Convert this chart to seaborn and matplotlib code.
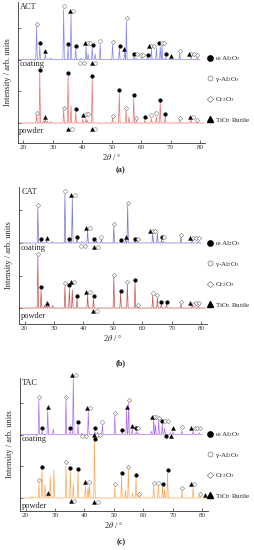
# XRD patterns of ACT / CAT / TAC coatings and powders (three stacked panels)

import pandas as pd
import matplotlib
matplotlib.use('Agg')
import matplotlib.pyplot as plt
import seaborn as sns
from matplotlib.lines import Line2D

sns.set_theme(style='ticks')
plt.rcParams['font.family'] = ['Liberation Serif', 'DejaVu Serif']
plt.rcParams['mathtext.fontset'] = 'stix'

# 1) data: peak position (2theta) and height (arb. units)
# coating curves sit on a baseline of 2, powder curves on 0
A_COAT_POS = [24.5, 25.6, 27.5, 29.3, 33.7, 35.2, 36.2, 37.8, 39.5, 41.3, 42.0, 43.4, 44.4, 46.1, 50.3,
              52.6, 54.4, 55.0, 57.5, 58.3, 60.3, 62.2, 63.5, 65.2, 66.5, 67.1, 68.3, 70.0, 73.1, 76.9, 79.0]
A_COAT_HT = [1.05, 0.42, 0.18, 0.05, 1.58, 0.40, 1.45, 0.33, 0.04, 0.42, 0.18, 0.38, 0.18, 0.48, 0.46,
             0.36, 0.26, 1.20, 0.10, 0.06, 0.05, 0.07, 0.33, 0.36, 0.40, 0.45, 0.08, 0.05, 0.20, 0.13, 0.07]
A_POW_POS = [24.5, 25.6, 26.9, 27.5, 28.2, 29.5, 33.7, 35.2, 36.2, 37.8, 40.2, 41.3, 41.8, 43.4, 50.3,
             52.6, 54.9, 55.9, 57.5, 58.4, 61.3, 63.5, 65.2, 66.5, 68.2, 73.1, 76.9, 79.0]
A_POW_HT = [0.25, 1.58, 0.07, 0.12, 0.06, 0.05, 0.40, 1.48, 0.55, 0.34, 0.12, 0.15, 0.08, 1.40, 0.15,
            0.93, 0.40, 0.20, 0.78, 0.07, 0.10, 0.14, 0.20, 0.64, 0.21, 0.07, 0.12, 0.04]

B_COAT_POS = [24.5, 25.6, 27.5, 29.4, 33.7, 35.2, 36.2, 37.8, 39.5, 41.4, 43.5, 44.5, 46.1, 50.3, 52.7,
              54.3, 55.0, 57.5, 58.5, 63.5, 65.1, 66.5, 67.2, 73.1, 76.9, 79.0]
B_COAT_HT = [1.08, 0.07, 0.07, 0.04, 1.50, 0.07, 1.38, 0.13, 0.04, 0.38, 0.07, 0.06, 0.13, 0.50, 0.05,
             0.10, 1.15, 0.07, 0.05, 0.30, 0.30, 0.10, 0.05, 0.18, 0.10, 0.05]
B_POW_POS = [24.5, 25.6, 26.8, 27.5, 28.2, 29.5, 33.7, 35.2, 36.2, 37.8, 41.4, 43.4, 50.3, 52.6, 54.9,
             57.5, 58.4, 63.5, 65.1, 66.4, 68.2, 73.1, 76.9, 79.0]
B_POW_HT = [1.58, 0.55, 0.08, 0.10, 0.12, 0.08, 0.68, 0.60, 0.55, 0.28, 0.40, 0.28, 0.95, 0.45, 0.72,
            0.78, 0.05, 0.38, 0.33, 0.10, 0.12, 0.10, 0.08, 0.06]

C_COAT_POS = [24.5, 25.6, 27.5, 29.4, 33.7, 35.2, 36.2, 37.8, 39.2, 41.3, 43.5, 44.4, 46.1, 50.3, 52.7,
              54.3, 55.0, 56.2, 57.6, 58.3, 62.7, 63.5, 64.1, 65.2, 66.4, 67.2, 69.1, 70.0, 73.1, 76.9, 79.0]
C_COAT_HT = [1.08, 0.10, 0.76, 0.18, 1.08, 0.10, 1.76, 0.28, 0.04, 0.72, 0.10, 0.08, 0.30, 0.58, 0.05,
             0.76, 1.00, 0.18, 0.10, 0.05, 0.10, 0.50, 0.30, 0.45, 0.33, 0.20, 0.06, 0.08, 0.12, 0.10, 0.06]
C_POW_POS = [22.2, 24.5, 25.6, 26.6, 27.5, 28.4, 29.6, 33.7, 35.2, 36.2, 37.8, 40.3, 41.2, 41.7, 43.4,
             50.3, 52.6, 53.9, 54.9, 56.3, 57.5, 58.4, 63.5, 65.1, 66.5, 67.2, 68.2, 73.1, 76.9, 79.0, 81.0]
C_POW_HT = [0.05, 0.47, 0.88, 0.42, 0.10, 0.70, 0.88, 1.00, 0.86, 0.45, 0.82, 0.38, 0.33, 0.40, 1.78,
            0.36, 0.70, 0.25, 0.88, 0.15, 0.63, 0.05, 0.38, 0.38, 0.36, 0.28, 0.78, 0.23, 0.33, 0.05, 0.04]

# phase markers (2theta, intensity)
A_ALPHA = [(25.6, 2.52), (35.2, 2.50), (37.8, 2.44), (43.5, 2.47), (52.7, 2.44), (57.6, 2.19), (62.2, 2.16),
           (66.2, 2.53), (68.3, 2.19), (25.6, 1.68), (35.2, 1.58), (43.4, 1.50), (52.6, 1.03), (57.5, 0.88),
           (66.5, 0.74), (37.8, 0.44), (61.3, 0.18), (68.2, 0.30)]
A_GAMMA = [(33.7, 3.70), (37.0, 3.55), (42.0, 2.52), (46.1, 2.59), (60.0, 2.16), (67.2, 2.53), (39.4, 1.90),
           (44.4, 1.90), (41.3, 0.28), (63.5, 0.25), (65.1, 0.31), (36.4, -0.20), (44.5, -0.20), (77.6, 0.20)]
A_CR = [(24.5, 3.13), (42.7, 2.52), (50.3, 2.55), (55.1, 3.30), (58.5, 2.19), (60.7, 2.16), (63.5, 2.42),
        (64.3, 2.42), (67.9, 2.53), (73.1, 2.28), (77.0, 2.19), (77.9, 2.19), (79.0, 2.16), (40.6, 1.90),
        (24.5, 0.33), (33.7, 0.48), (42.0, 0.28), (50.3, 0.23), (54.9, 0.48), (58.4, 0.15), (73.1, 0.15),
        (78.9, 0.10)]
A_TI = [(27.5, 2.28), (35.8, 3.55), (40.9, 2.52), (54.3, 2.34), (62.6, 2.42), (70.0, 2.13), (76.1, 2.19),
        (43.3, 1.90), (27.5, 0.20), (40.3, 0.24), (76.5, 0.20), (35.3, -0.20), (43.3, -0.20)]

B_ALPHA = [(25.6, 2.12), (35.2, 2.12), (37.8, 2.19), (43.5, 2.12), (52.7, 2.09), (57.5, 2.12), (66.5, 2.18),
           (25.6, 0.64), (35.2, 0.70), (37.8, 0.36), (43.4, 0.37), (52.6, 0.53), (57.5, 0.87), (66.4, 0.18),
           (68.2, 0.20)]
B_GAMMA = [(33.7, 3.60), (37.0, 3.46), (42.2, 2.45), (46.1, 2.19), (63.5, 2.38), (67.3, 2.18), (39.3, 1.90),
           (44.8, 1.88), (36.9, 0.81), (42.1, 0.49), (63.5, 0.46), (44.6, -0.10), (77.6, 0.12)]
B_CR = [(24.5, 3.17), (50.3, 2.59), (55.0, 3.24), (58.5, 2.12), (64.3, 2.38), (73.1, 2.25), (77.3, 2.15),
        (78.2, 2.15), (79.1, 2.15), (40.6, 1.90), (24.5, 1.66), (33.7, 0.77), (50.3, 1.03), (54.9, 0.80),
        (58.4, 0.10), (65.1, 0.41), (73.1, 0.19), (78.3, 0.14), (79.1, 0.14)]
B_TI = [(27.5, 2.15), (35.8, 3.46), (40.9, 2.45), (54.3, 2.18), (62.6, 2.38), (76.2, 2.15), (43.4, 1.88),
        (27.5, 0.14), (35.9, 0.81), (41.0, 0.49), (43.3, -0.10), (76.1, 0.14)]

C_ALPHA = [(25.6, 2.22), (35.2, 2.22), (37.8, 2.38), (43.5, 2.22), (52.7, 2.13), (57.6, 2.22), (66.4, 2.42),
           (67.7, 1.95), (25.6, 0.98), (35.2, 0.95), (37.8, 0.92), (43.4, 1.86), (52.6, 0.79), (57.5, 0.72),
           (66.5, 0.45), (68.2, 0.88)]
C_GAMMA = [(37.0, 3.86), (41.9, 2.82), (46.1, 2.39), (64.3, 2.55), (67.2, 2.42), (39.3, 1.95), (44.3, 1.97),
           (41.6, 0.49), (63.5, 0.48), (65.1, 0.48), (36.4, -0.10), (44.6, -0.12), (77.1, 0.44)]
C_CR = [(24.5, 3.18), (33.7, 3.18), (50.3, 2.68), (55.1, 3.10), (58.3, 2.20), (63.5, 2.55), (65.3, 2.52),
        (68.2, 2.42), (73.1, 2.23), (77.4, 2.21), (78.3, 2.21), (79.1, 2.21), (40.6, 1.95), (45.1, 1.97),
        (24.5, 0.57), (33.7, 1.12), (50.3, 0.44), (54.9, 0.99), (58.4, 0.13), (73.1, 0.32), (79.1, 0.14)]
C_TI = [(27.5, 2.86), (35.8, 3.86), (40.8, 2.82), (54.3, 2.87), (56.2, 2.26), (62.8, 2.55), (69.9, 2.19),
        (76.1, 2.21), (69.3, 1.95), (43.3, 1.98), (27.5, 0.17), (40.3, 0.49), (76.1, 0.44), (35.3, -0.10),
        (43.3, -0.12), (81.0, 0.10)]

SAMPLES = ['ACT', 'CAT', 'TAC']
PANEL_TAGS = ['(a)', '(b)', '(c)']
PHASE_LABELS = ['α-Al$_2$O$_3$', 'γ-Al$_2$O$_3$', 'Cr$_2$O$_3$', 'TiO$_2$ Rutile']
X_TICKS = [20, 30, 40, 50, 60, 70, 80]

COAT_COLORS = ['#8383f6', '#7676c9', '#b06cf0']
POW_COLORS = ['#f27070', '#c4544f', '#f9a95c']


def profile(pos, ht, base, x_end):
    # spike per peak on a flat baseline
    xs, ys = [18.3], [base]
    for p, h in sorted(zip(pos, ht)):
        xs += [p - 0.25, p, p + 0.25]
        ys += [base, base + h, base]
    xs.append(x_end)
    ys.append(base)
    return pd.DataFrame({'two_theta': xs, 'intensity': ys})


def marks(pts):
    return pd.DataFrame(pts, columns=['two_theta', 'intensity'])


panels = [
    (A_COAT_POS, A_COAT_HT, A_POW_POS, A_POW_HT, [A_ALPHA, A_GAMMA, A_CR, A_TI]),
    (B_COAT_POS, B_COAT_HT, B_POW_POS, B_POW_HT, [B_ALPHA, B_GAMMA, B_CR, B_TI]),
    (C_COAT_POS, C_COAT_HT, C_POW_POS, C_POW_HT, [C_ALPHA, C_GAMMA, C_CR, C_TI]),
]

# layout in pixels: left, top, bottom of each axes, plus y-limits
W, H = 255, 550
boxes = [(17.7, 2, 143), (19.0, 187, 324), (20.0, 378, 511)]
ylims = [(-0.63, 3.82), (-0.49, 3.72), (-0.41, 3.78)]
tag_y = [170, 363, 542]

phase_styles = [
    dict(marker='o', facecolor='black', edgecolor='black', linewidth=0.3, s=7),
    dict(marker='o', facecolor='white', edgecolor='#777777', linewidth=0.4, s=7),
    dict(marker='D', facecolor='white', edgecolor='#777777', linewidth=0.4, s=5),
    dict(marker='^', facecolor='black', edgecolor='black', linewidth=0.3, s=8),
]

fig = plt.figure(figsize=(W / 100, H / 100), dpi=100)

for i, (cpos, cht, ppos, pht, phases) in enumerate(panels):
    left, top, bottom = boxes[i]
    ax = fig.add_axes([left / W, 1 - bottom / H, 187.6 / W, (bottom - top) / H])

    sns.lineplot(data=profile(cpos, cht, 2.0, 80.0), x='two_theta', y='intensity', ax=ax,
                 color=COAT_COLORS[i], linewidth=0.5, estimator=None, sort=False)
    sns.lineplot(data=profile(ppos, pht, 0.0, 81.5), x='two_theta', y='intensity', ax=ax,
                 color=POW_COLORS[i], linewidth=0.5, estimator=None, sort=False)

    for pts, st in zip(phases, phase_styles):
        sns.scatterplot(data=marks(pts), x='two_theta', y='intensity', ax=ax,
                        clip_on=False, zorder=5, **st)

    ax.set_xlim(18.1, 81.8)
    ax.set_ylim(*ylims[i])
    ax.set_xticks(X_TICKS)
    ax.set_yticks([0, 1, 2, 3])
    ax.set_yticklabels([])
    ax.tick_params(direction='in', length=2, width=0.5, labelsize=5, pad=1.5, colors='#333333')
    sns.despine(ax=ax)
    for sp in ['left', 'bottom']:
        ax.spines[sp].set_linewidth(0.6)
        ax.spines[sp].set_color('#333333')

    ax.set_xlabel('2$\\theta$ / °', fontsize=6, labelpad=1.5)
    ax.set_ylabel('Intensity / arb. units', fontsize=6, labelpad=2.5)

    ax.text(0.012, 0.995, SAMPLES[i], transform=ax.transAxes, fontsize=6, va='top', ha='left')
    ax.text(18.6, 1.86, 'coating', fontsize=6, va='center', ha='left')
    ax.text(18.6, -0.24, 'powder', fontsize=6, va='center', ha='left')

    handles = [
        Line2D([], [], ls='none', marker='o', markersize=3.8, color='black'),
        Line2D([], [], ls='none', marker='o', markersize=3.6, markerfacecolor='white',
               markeredgecolor='#777777', markeredgewidth=0.5),
        Line2D([], [], ls='none', marker='D', markersize=3.2, markerfacecolor='white',
               markeredgecolor='#777777', markeredgewidth=0.5),
        Line2D([], [], ls='none', marker='^', markersize=4.0, color='black'),
    ]
    ax.legend(handles, PHASE_LABELS, loc='upper left', frameon=False, fontsize=5.1,
              bbox_to_anchor=(206.5 / W, 1 - (top + 52) / H), bbox_transform=fig.transFigure,
              borderpad=0, borderaxespad=0, handlelength=0.9, handletextpad=0.25, labelspacing=1.65)

    fig.text(121 / W, 1 - tag_y[i] / H, PANEL_TAGS[i], fontsize=6, fontweight='bold',
             ha='center', va='center')

fig.savefig('out.png', dpi=100)
print('saved out.png')
